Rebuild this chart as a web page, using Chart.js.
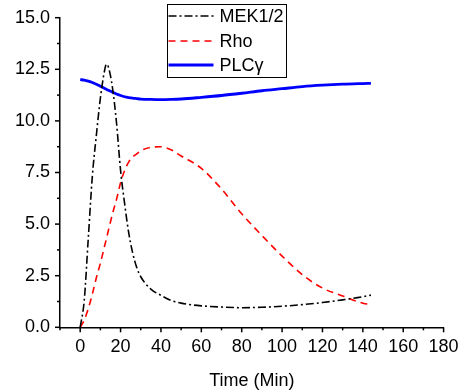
<!DOCTYPE html>
<html>
<head>
<meta charset="utf-8">
<script src="https://cdn.jsdelivr.net/npm/chart.js@4"></script>
<style>
  html, body { margin: 0; padding: 0; background: #fff; }
  #wrap { width: 465px; height: 392px; }
</style>
</head>
<body>
<div id="wrap"><canvas id="chart" width="465" height="392"></canvas></div>
<script>
// time points (min)
const time = [0, 2, 4, 6, 8, 10, 12, 13, 14, 16, 18, 20, 22, 24, 26, 28, 30, 35, 40, 45, 50, 60, 70, 80, 90, 100, 110, 120, 130, 140, 144];

// series values
const mek = [0, 1.3, 4.3, 7.3, 9.3, 11.1, 12.4, 12.75, 12.6, 11.6, 9.9, 7.6, 6.0, 4.6, 3.6, 2.9, 2.45, 1.85, 1.55, 1.3, 1.17, 1.04, 0.98, 0.95, 0.97, 1.02, 1.1, 1.2, 1.33, 1.48, 1.56];
const rho = [0, 0.35, 0.9, 1.6, 2.4, 3.1, 3.9, 4.3, 4.7, 5.5, 6.2, 7.0, 7.6, 8.0, 8.25, 8.4, 8.55, 8.72, 8.75, 8.6, 8.3, 7.7, 6.7, 5.5, 4.45, 3.45, 2.55, 1.9, 1.52, 1.17, 1.1];
const plc = [12.0, 11.98, 11.93, 11.86, 11.78, 11.68, 11.58, 11.53, 11.48, 11.39, 11.3, 11.23, 11.17, 11.13, 11.1, 11.08, 11.06, 11.04, 11.03, 11.04, 11.06, 11.14, 11.23, 11.34, 11.46, 11.56, 11.66, 11.73, 11.78, 11.81, 11.82];

const seriesNames = ['MEK1/2', 'Rho', 'PLC\u03b3'];

// tick labels
const xTicks = [0, 20, 40, 60, 80, 100, 120, 140, 160, 180];
const yTicks = [0, 2.5, 5, 7.5, 10, 12.5, 15];

const FONT = "'Liberation Sans', Arial, sans-serif";

function points(ys) {
  return time.map(function (t, i) { return { x: t, y: ys[i] }; });
}

// outside tick marks: long at the labels, short half way between
const tickMarks = {
  id: 'tickMarks',
  afterDraw: function (chart) {
    const ctx = chart.ctx;
    const xs = chart.scales.x;
    const ys = chart.scales.y;
    const area = chart.chartArea;
    ctx.save();
    ctx.setLineDash([]);
    ctx.strokeStyle = '#000';
    ctx.lineWidth = 1.5;
    for (let v = -10; v <= 180; v += 10) {
      const px = xs.getPixelForValue(v);
      const len = (v % 20 === 0) ? 5 : 3;
      ctx.beginPath();
      ctx.moveTo(px, area.bottom);
      ctx.lineTo(px, area.bottom + len);
      ctx.stroke();
    }
    for (let i = 0; i <= 12; i++) {
      const py = ys.getPixelForValue(i * 1.25);
      const len = (i % 2 === 0) ? 5 : 3;
      ctx.beginPath();
      ctx.moveTo(area.left, py);
      ctx.lineTo(area.left - len, py);
      ctx.stroke();
    }
    ctx.restore();
  }
};

// boxed legend in the upper middle
const boxLegend = {
  id: 'boxLegend',
  afterDraw: function (chart) {
    const ctx = chart.ctx;
    const left = 167.5, top = 4.5, w = 119, h = 73;
    ctx.save();
    ctx.fillStyle = '#fff';
    ctx.fillRect(left, top, w, h);
    ctx.strokeStyle = '#000';
    ctx.lineWidth = 1;
    ctx.strokeRect(left, top, w, h);
    ctx.font = '18px ' + FONT;
    ctx.textBaseline = 'middle';
    ctx.textAlign = 'left';
    const rows = [16, 41, 65];
    chart.data.datasets.forEach(function (ds, i) {
      ctx.save();
      ctx.strokeStyle = ds.borderColor;
      ctx.lineWidth = ds.borderWidth;
      ctx.setLineDash(ds.borderDash || []);
      ctx.beginPath();
      ctx.moveTo(left + 1, rows[i]);
      ctx.lineTo(left + 46, rows[i]);
      ctx.stroke();
      ctx.restore();
      ctx.fillStyle = '#000';
      ctx.fillText(ds.label, left + 52, rows[i] + 1);
    });
    ctx.restore();
  }
};

// grid hidden; tickLength still sets the label offset
const axisGrid = { display: false, drawTicks: true, tickLength: 5 };

new Chart(document.getElementById('chart'), {
  type: 'line',
  data: {
    datasets: [
      { label: seriesNames[0], data: points(mek), borderColor: '#000', borderWidth: 1.6, borderDash: [8, 3, 2, 3], pointRadius: 0, tension: 0.3, cubicInterpolationMode: 'monotone', fill: false },
      { label: seriesNames[1], data: points(rho), borderColor: '#ff0000', borderWidth: 1.6, borderDash: [7, 5], pointRadius: 0, tension: 0.3, cubicInterpolationMode: 'monotone', fill: false },
      { label: seriesNames[2], data: points(plc), borderColor: '#0000ff', borderWidth: 2.8, pointRadius: 0, tension: 0.3, cubicInterpolationMode: 'monotone', fill: false }
    ]
  },
  options: {
    responsive: false,
    animation: false,
    layout: { padding: { left: 0, right: 21.4, top: 17.7, bottom: 0 } },
    plugins: {
      legend: { display: false },
      tooltip: { enabled: false }
    },
    scales: {
      x: {
        type: 'linear',
        min: -10,
        max: 180,
        afterBuildTicks: function (scale) {
          scale.ticks = xTicks.map(function (v) { return { value: v }; });
        },
        afterFit: function (scale) { scale.height = 64.7; },
        grid: axisGrid,
        border: { display: true, color: '#000', width: 1.5 },
        ticks: { color: '#000', font: { family: FONT, size: 18 }, padding: 4, maxRotation: 0, autoSkip: false },
        title: { display: true, text: 'Time (Min)', color: '#000', font: { family: FONT, size: 18 }, padding: { top: 4, bottom: 0 } }
      },
      y: {
        min: 0,
        max: 15,
        afterBuildTicks: function (scale) {
          scale.ticks = yTicks.map(function (v) { return { value: v }; });
        },
        afterFit: function (scale) { scale.width = 60; },
        grid: axisGrid,
        border: { display: true, color: '#000', width: 1.5 },
        ticks: {
          color: '#000',
          font: { family: FONT, size: 18 },
          padding: 5,
          autoSkip: false,
          callback: function (v) { return Number(v).toFixed(1); }
        }
      }
    }
  },
  plugins: [tickMarks, boxLegend]
});
</script>
</body>
</html>
